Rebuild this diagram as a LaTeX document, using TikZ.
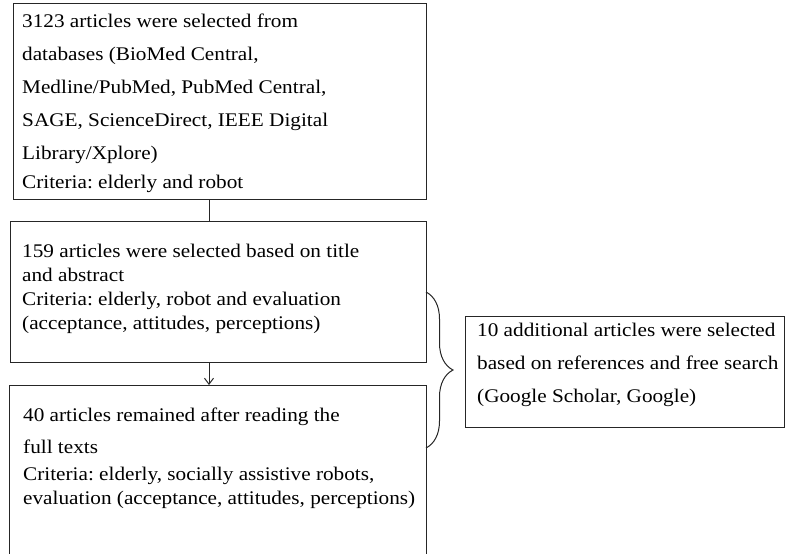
\documentclass[tikz,border=0pt]{standalone}
\usepackage{fontspec}
\setmainfont{Liberation Serif}[FakeStretch=1.1]
\usetikzlibrary{arrows.meta, decorations.pathreplacing}
\colorlet{BoxLine}{black!85}
\frenchspacing
\tikzset{
  box/.style={draw=BoxLine, line width=1pt, anchor=north west, inner sep=0pt, outer sep=0pt},
  boxtext/.style={anchor=north west, inner sep=0pt, align=left, font=\fontsize{19.3}{24}\selectfont},
  link/.style={draw=BoxLine, line width=1pt},
}

\begin{document}
\begin{tikzpicture}[x=1pt, y=-1pt]

    \useasboundingbox (0,0) rectangle (785,554);

    \coordinate (flow) at (209,0);
    \coordinate (bracetop) at (426,292);
    \coordinate (bracebot) at (426,448);

    \node [box, minimum width=413, minimum height=196] (sel) at (13,3) {};
    \node [box, minimum width=416, minimum height=141] (scr) at (10,221) {};
    \node [box, minimum width=417, minimum height=175] (incl) at (9,385) {};
    \node [box, minimum width=319, minimum height=111] (add) at (465,316) {};

    \node [boxtext] (seltext) at (22,10) {\strut 3123 articles were selected from\\[9pt]
        databases (BioMed Central,\\[9pt]
        Medline/PubMed, PubMed Central,\\[9pt]
        SAGE, ScienceDirect, IEEE Digital\\[9pt]
        Library/Xplore)\\[5pt]
        Criteria: elderly and robot};
    \node [boxtext] (scrtext) at (22,240.2) {\strut 159 articles were selected based on title\\
        and abstract\\
        Criteria: elderly, robot and evaluation\\
        (acceptance, attitudes, perceptions)};
    \node [boxtext] (incltext) at (23,404.5) {\strut 40 articles remained after reading the\\[8pt]
        full texts\\[3pt]
        Criteria: elderly, socially assistive robots,\\
        evaluation (acceptance, attitudes, perceptions)};
    \node [boxtext] (addtext) at (477,319.2) {\strut 10 additional articles were selected\\[9pt]
        based on references and free search\\[9pt]
        (Google Scholar, Google)};

    \draw [link] (sel.south -| flow) -- (scr.north -| flow);
    \draw [link, -{Straight Barb[length=6pt, width=9pt]}] (scr.south -| flow) -- (incl.north -| flow);
    \draw [link, decorate, decoration={brace, amplitude=27pt}] (bracetop) -- (bracebot);

\end{tikzpicture}
\end{document}
